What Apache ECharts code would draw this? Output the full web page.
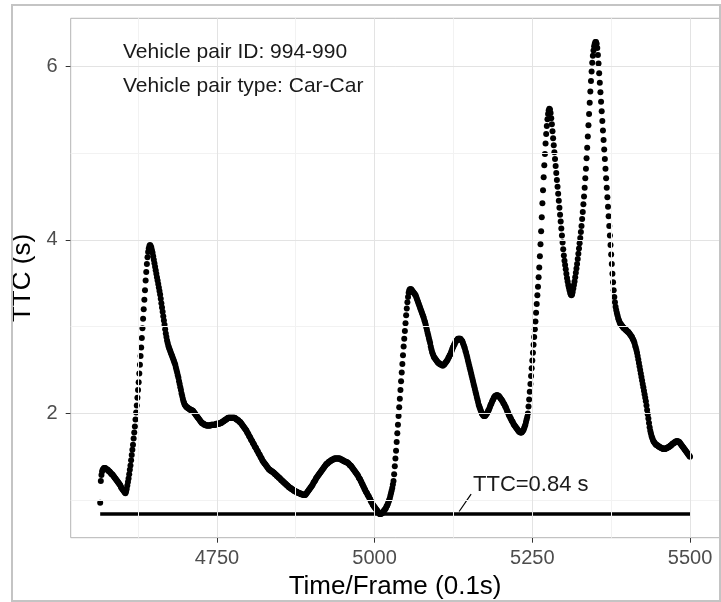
<!DOCTYPE html>
<html>
<head>
<meta charset="utf-8">
<title>TTC 994-990</title>
<script src="https://cdn.jsdelivr.net/npm/echarts@6/dist/echarts.min.js"></script>
<style>
  html, body { margin: 0; padding: 0; background: #fff; }
  #chart { width: 721px; height: 602px; }
</style>
</head>
<body>
<div id="chart"></div>
<script>
// one TTC value (s) per frame, frames are consecutive from firstFrame
const firstFrame = 4565;
const ttc = [
  0.97, 1.22, 1.29, 1.33, 1.35, 1.36, 1.37, 1.37, 1.37, 1.36, // 4565
  1.36, 1.35, 1.35, 1.34, 1.33, 1.33, 1.32, 1.31, 1.30, 1.30, // 4575
  1.29, 1.28, 1.27, 1.26, 1.25, 1.24, 1.23, 1.22, 1.21, 1.20, // 4585
  1.19, 1.18, 1.17, 1.15, 1.14, 1.13, 1.12, 1.11, 1.10, 1.09, // 4595
  1.08, 1.10, 1.13, 1.17, 1.21, 1.25, 1.30, 1.35, 1.40, 1.46, // 4605
  1.52, 1.58, 1.64, 1.71, 1.78, 1.85, 1.93, 2.01, 2.09, 2.18, // 4615
  2.27, 2.36, 2.46, 2.56, 2.66, 2.76, 2.87, 2.98, 3.09, 3.20, // 4625
  3.31, 3.42, 3.53, 3.63, 3.72, 3.80, 3.86, 3.90, 3.93, 3.94, // 4635
  3.93, 3.91, 3.88, 3.85, 3.81, 3.77, 3.73, 3.69, 3.65, 3.61, // 4645
  3.57, 3.53, 3.49, 3.45, 3.41, 3.37, 3.32, 3.27, 3.22, 3.17, // 4655
  3.12, 3.07, 3.02, 2.97, 2.92, 2.88, 2.84, 2.81, 2.78, 2.76, // 4665
  2.74, 2.72, 2.70, 2.68, 2.66, 2.64, 2.62, 2.60, 2.58, 2.56, // 4675
  2.53, 2.50, 2.47, 2.44, 2.41, 2.37, 2.34, 2.30, 2.27, 2.23, // 4685
  2.20, 2.17, 2.14, 2.12, 2.10, 2.09, 2.08, 2.07, 2.07, 2.06, // 4695
  2.06, 2.05, 2.05, 2.04, 2.04, 2.04, 2.03, 2.03, 2.02, 2.01, // 4705
  2.00, 1.99, 1.98, 1.97, 1.96, 1.95, 1.94, 1.93, 1.92, 1.91, // 4715
  1.90, 1.89, 1.89, 1.88, 1.88, 1.87, 1.87, 1.87, 1.86, 1.86, // 4725
  1.86, 1.86, 1.86, 1.86, 1.86, 1.86, 1.87, 1.87, 1.87, 1.87, // 4735
  1.87, 1.87, 1.87, 1.87, 1.88, 1.88, 1.88, 1.88, 1.88, 1.88, // 4745
  1.89, 1.89, 1.89, 1.90, 1.90, 1.91, 1.91, 1.92, 1.92, 1.93, // 4755
  1.93, 1.94, 1.94, 1.95, 1.95, 1.95, 1.95, 1.95, 1.95, 1.95, // 4765
  1.95, 1.95, 1.95, 1.95, 1.94, 1.94, 1.93, 1.93, 1.92, 1.92, // 4775
  1.91, 1.90, 1.90, 1.89, 1.88, 1.87, 1.86, 1.85, 1.84, 1.83, // 4785
  1.82, 1.81, 1.80, 1.78, 1.77, 1.76, 1.74, 1.73, 1.72, 1.70, // 4795
  1.69, 1.68, 1.66, 1.65, 1.64, 1.62, 1.61, 1.60, 1.58, 1.57, // 4805
  1.56, 1.54, 1.53, 1.52, 1.50, 1.49, 1.48, 1.46, 1.45, 1.44, // 4815
  1.43, 1.42, 1.41, 1.40, 1.39, 1.38, 1.37, 1.36, 1.35, 1.35, // 4825
  1.34, 1.34, 1.33, 1.33, 1.32, 1.32, 1.31, 1.30, 1.30, 1.29, // 4835
  1.28, 1.28, 1.27, 1.26, 1.26, 1.25, 1.24, 1.23, 1.23, 1.22, // 4845
  1.21, 1.21, 1.20, 1.19, 1.19, 1.18, 1.17, 1.17, 1.16, 1.15, // 4855
  1.15, 1.14, 1.14, 1.13, 1.13, 1.12, 1.12, 1.11, 1.11, 1.10, // 4865
  1.10, 1.10, 1.09, 1.09, 1.09, 1.08, 1.08, 1.08, 1.07, 1.07, // 4875
  1.07, 1.07, 1.06, 1.06, 1.06, 1.06, 1.07, 1.08, 1.09, 1.10, // 4885
  1.11, 1.12, 1.13, 1.14, 1.15, 1.16, 1.17, 1.18, 1.20, 1.21, // 4895
  1.22, 1.23, 1.25, 1.26, 1.27, 1.28, 1.29, 1.30, 1.31, 1.32, // 4905
  1.33, 1.34, 1.35, 1.36, 1.37, 1.38, 1.39, 1.40, 1.41, 1.42, // 4915
  1.42, 1.43, 1.44, 1.44, 1.45, 1.45, 1.46, 1.46, 1.47, 1.47, // 4925
  1.47, 1.48, 1.48, 1.48, 1.48, 1.48, 1.48, 1.48, 1.48, 1.48, // 4935
  1.48, 1.47, 1.47, 1.47, 1.46, 1.46, 1.45, 1.45, 1.45, 1.44, // 4945
  1.44, 1.44, 1.43, 1.43, 1.42, 1.41, 1.40, 1.40, 1.39, 1.38, // 4955
  1.37, 1.36, 1.35, 1.34, 1.33, 1.32, 1.31, 1.30, 1.29, 1.28, // 4965
  1.26, 1.25, 1.24, 1.22, 1.21, 1.19, 1.18, 1.16, 1.15, 1.13, // 4975
  1.12, 1.10, 1.09, 1.08, 1.06, 1.05, 1.04, 1.02, 1.01, 0.99, // 4985
  0.98, 0.97, 0.95, 0.94, 0.93, 0.92, 0.91, 0.90, 0.89, 0.88, // 4995
  0.87, 0.86, 0.85, 0.84, 0.84, 0.84, 0.85, 0.85, 0.86, 0.87, // 5005
  0.88, 0.89, 0.90, 0.91, 0.93, 0.94, 0.96, 0.98, 1.00, 1.02, // 5015
  1.05, 1.08, 1.11, 1.14, 1.18, 1.22, 1.30, 1.39, 1.48, 1.57, // 5025
  1.67, 1.77, 1.87, 1.97, 2.07, 2.17, 2.27, 2.37, 2.47, 2.57, // 5035
  2.67, 2.77, 2.86, 2.95, 3.04, 3.13, 3.21, 3.28, 3.34, 3.39, // 5045
  3.42, 3.43, 3.43, 3.43, 3.42, 3.41, 3.40, 3.39, 3.38, 3.37, // 5055
  3.36, 3.34, 3.32, 3.30, 3.28, 3.26, 3.24, 3.22, 3.20, 3.18, // 5065
  3.16, 3.14, 3.12, 3.10, 3.07, 3.05, 3.02, 2.99, 2.96, 2.93, // 5075
  2.90, 2.87, 2.84, 2.81, 2.77, 2.74, 2.71, 2.69, 2.67, 2.65, // 5085
  2.64, 2.63, 2.62, 2.61, 2.60, 2.59, 2.58, 2.58, 2.57, 2.57, // 5095
  2.56, 2.56, 2.56, 2.55, 2.56, 2.56, 2.57, 2.58, 2.59, 2.60, // 5105
  2.61, 2.62, 2.64, 2.65, 2.67, 2.68, 2.70, 2.72, 2.74, 2.76, // 5115
  2.77, 2.79, 2.80, 2.82, 2.83, 2.84, 2.85, 2.86, 2.86, 2.86, // 5125
  2.86, 2.86, 2.85, 2.84, 2.83, 2.81, 2.79, 2.77, 2.75, 2.72, // 5135
  2.70, 2.67, 2.64, 2.61, 2.58, 2.55, 2.52, 2.49, 2.46, 2.43, // 5145
  2.40, 2.37, 2.34, 2.31, 2.28, 2.25, 2.22, 2.19, 2.16, 2.13, // 5155
  2.10, 2.08, 2.06, 2.04, 2.02, 2.00, 1.99, 1.98, 1.97, 1.97, // 5165
  1.97, 1.98, 1.99, 2.00, 2.01, 2.03, 2.04, 2.06, 2.08, 2.10, // 5175
  2.11, 2.13, 2.15, 2.16, 2.18, 2.19, 2.20, 2.20, 2.21, 2.21, // 5185
  2.21, 2.20, 2.20, 2.19, 2.18, 2.17, 2.16, 2.15, 2.14, 2.12, // 5195
  2.11, 2.10, 2.08, 2.07, 2.05, 2.03, 2.02, 2.00, 1.98, 1.97, // 5205
  1.95, 1.94, 1.92, 1.91, 1.90, 1.88, 1.87, 1.86, 1.85, 1.84, // 5215
  1.83, 1.82, 1.81, 1.80, 1.79, 1.79, 1.78, 1.78, 1.78, 1.79, // 5225
  1.80, 1.81, 1.83, 1.85, 1.87, 1.90, 1.93, 1.96, 2.00, 2.08, // 5235
  2.16, 2.25, 2.34, 2.43, 2.52, 2.61, 2.70, 2.79, 2.88, 2.97, // 5245
  3.06, 3.16, 3.26, 3.36, 3.46, 3.57, 3.68, 3.81, 3.95, 4.10, // 5255
  4.26, 4.42, 4.57, 4.72, 4.86, 4.99, 5.11, 5.22, 5.31, 5.39, // 5265
  5.45, 5.49, 5.51, 5.50, 5.46, 5.40, 5.33, 5.25, 5.17, 5.09, // 5275
  5.01, 4.93, 4.85, 4.77, 4.69, 4.61, 4.53, 4.45, 4.37, 4.29, // 5285
  4.21, 4.13, 4.05, 3.97, 3.89, 3.82, 3.76, 3.71, 3.66, 3.61, // 5295
  3.56, 3.52, 3.48, 3.45, 3.42, 3.39, 3.37, 3.36, 3.37, 3.40, // 5305
  3.44, 3.48, 3.52, 3.57, 3.62, 3.67, 3.72, 3.78, 3.84, 3.90, // 5315
  3.96, 4.02, 4.09, 4.16, 4.24, 4.32, 4.41, 4.50, 4.60, 4.71, // 5325
  4.82, 4.94, 5.06, 5.19, 5.32, 5.45, 5.58, 5.71, 5.83, 5.94, // 5335
  6.04, 6.12, 6.18, 6.23, 6.26, 6.28, 6.28, 6.26, 6.21, 6.13, // 5345
  6.03, 5.92, 5.81, 5.70, 5.59, 5.48, 5.37, 5.26, 5.15, 5.04, // 5355
  4.93, 4.82, 4.71, 4.60, 4.49, 4.38, 4.27, 4.16, 4.05, 3.94, // 5365
  3.83, 3.72, 3.61, 3.51, 3.42, 3.34, 3.28, 3.23, 3.19, 3.16, // 5375
  3.13, 3.10, 3.08, 3.06, 3.04, 3.03, 3.02, 3.01, 3.00, 2.99, // 5385
  2.98, 2.98, 2.97, 2.96, 2.96, 2.95, 2.94, 2.94, 2.93, 2.92, // 5395
  2.91, 2.90, 2.89, 2.88, 2.86, 2.85, 2.83, 2.81, 2.78, 2.76, // 5405
  2.73, 2.70, 2.66, 2.62, 2.58, 2.54, 2.50, 2.46, 2.42, 2.38, // 5415
  2.34, 2.30, 2.26, 2.22, 2.18, 2.14, 2.09, 2.04, 1.99, 1.94, // 5425
  1.89, 1.84, 1.80, 1.77, 1.74, 1.72, 1.70, 1.68, 1.67, 1.66, // 5435
  1.65, 1.64, 1.64, 1.63, 1.63, 1.62, 1.62, 1.61, 1.61, 1.60, // 5445
  1.60, 1.60, 1.59, 1.59, 1.59, 1.59, 1.59, 1.60, 1.60, 1.60, // 5455
  1.61, 1.61, 1.62, 1.62, 1.63, 1.63, 1.64, 1.65, 1.65, 1.66, // 5465
  1.66, 1.67, 1.67, 1.68, 1.68, 1.68, 1.68, 1.67, 1.67, 1.66, // 5475
  1.65, 1.64, 1.63, 1.62, 1.61, 1.60, 1.59, 1.58, 1.57, 1.56, // 5485
  1.55, 1.54, 1.53, 1.52, 1.51, 1.50                          // 5495
];

const thresholdFrames = [4565, 5500];
const thresholdTTC = 0.84;
const thresholdLabel = "TTC=0.84 s";
const leaderLine = [[5134, 0.87], [5153, 1.07]];
const infoLines = ["Vehicle pair ID: 994-990", "Vehicle pair type: Car-Car"];

const xMajor = [4750, 5000, 5250, 5500];
const xMinor = [4625, 4875, 5125, 5375];
const yMajor = [2, 4, 6];
const yMinor = [1, 3, 5];

const font = '"Liberation Sans", Arial, sans-serif';

const chart = echarts.init(document.getElementById("chart"));

const points = ttc.map((v, i) => [firstFrame + i, v]);

// ggplot-like panel grid: faint minor lines, slightly darker major lines
const gridLines = [];
xMinor.forEach((v) => gridLines.push({ xAxis: v, lineStyle: { color: "#f2f2f2", width: 1 } }));
yMinor.forEach((v) => gridLines.push({ yAxis: v, lineStyle: { color: "#f2f2f2", width: 1 } }));
xMajor.forEach((v) => gridLines.push({ xAxis: v, lineStyle: { color: "#e3e3e3", width: 1 } }));
yMajor.forEach((v) => gridLines.push({ yAxis: v, lineStyle: { color: "#e3e3e3", width: 1 } }));

const option = {
  animation: false,
  backgroundColor: "#fff",
  grid: {
    left: 70.7,
    right: 1.5,
    top: 18.3,
    bottom: 64.3,
    show: true,
    backgroundColor: "#fff",
    borderColor: "#b4b4b4",
    borderWidth: 1,
    containLabel: false,
    outerBoundsMode: "none",
  },
  xAxis: {
    type: "value",
    min: 4518.25,
    max: 5546.75,
    splitLine: { show: false },
    axisLine: { show: false, onZero: false },
    axisTick: {
      show: true,
      customValues: xMajor,
      length: 5,
      lineStyle: { color: "#333", width: 1 },
    },
    axisLabel: {
      customValues: xMajor,
      formatter: (v) => String(v),
      color: "#4d4d4d",
      fontSize: 20,
      fontFamily: font,
      margin: 11,
    },
    name: "Time/Frame (0.1s)",
    nameLocation: "middle",
    nameGap: 32,
    nameTextStyle: { fontSize: 26, color: "#000", fontFamily: font },
  },
  yAxis: {
    type: "value",
    min: 0.568,
    max: 6.552,
    splitLine: { show: false },
    axisLine: { show: false, onZero: false },
    axisTick: {
      show: true,
      customValues: yMajor,
      length: 5,
      lineStyle: { color: "#333", width: 1 },
    },
    axisLabel: {
      customValues: yMajor,
      formatter: (v) => String(v),
      color: "#4d4d4d",
      fontSize: 20,
      fontFamily: font,
      margin: 13,
    },
    name: "TTC (s)",
    nameLocation: "middle",
    nameGap: 29,
    nameTextStyle: { fontSize: 26, color: "#000", fontFamily: font },
  },
  series: [
    {
      // threshold line, also carries the panel grid lines
      type: "line",
      z: 2,
      silent: true,
      showSymbol: false,
      data: thresholdFrames.map((f) => [f, thresholdTTC]),
      lineStyle: { color: "#000", width: 3.5 },
      markLine: {
        silent: true,
        symbol: ["none", "none"],
        label: { show: false },
        lineStyle: { type: "solid" },
        emphasis: { disabled: true },
        data: gridLines,
      },
    },
    {
      // short leader from the threshold to its label
      type: "line",
      z: 2,
      silent: true,
      showSymbol: false,
      data: leaderLine,
      lineStyle: { color: "#000", width: 1.2 },
    },
    {
      type: "scatter",
      z: 3,
      silent: true,
      symbol: "circle",
      symbolSize: 6,
      itemStyle: { color: "#000", opacity: 1 },
      data: points,
    },
  ],
  graphic: [
    {
      type: "rect",
      silent: true,
      z: 100,
      shape: { x: 12, y: 5, width: 708, height: 596 },
      style: { fill: "none", stroke: "#c4c4c4", lineWidth: 2 },
    },
    {
      type: "text",
      z: 100,
      left: 123,
      top: 42,
      style: { text: infoLines[0], fontSize: 21, fontFamily: font, fill: "#1a1a1a" },
    },
    {
      type: "text",
      z: 100,
      left: 123,
      top: 75.5,
      style: { text: infoLines[1], fontSize: 21, fontFamily: font, fill: "#1a1a1a" },
    },
    {
      type: "text",
      z: 100,
      left: 473,
      top: 474,
      style: { text: thresholdLabel, fontSize: 22, fontFamily: font, fill: "#1a1a1a" },
    },
  ],
};

chart.setOption(option);
</script>
</body>
</html>
